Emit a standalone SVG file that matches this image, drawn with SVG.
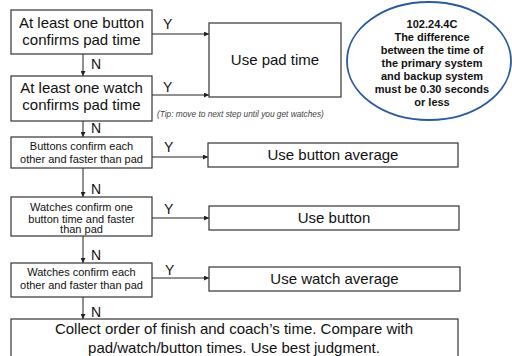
<svg xmlns="http://www.w3.org/2000/svg" width="512" height="356" viewBox="0 0 512 356">
<defs>
<marker id="ah" viewBox="0 0 6 6" refX="6" refY="3" markerWidth="5" markerHeight="5" orient="auto" markerUnits="userSpaceOnUse">
<path d="M0,0 L6,3 L0,6 z" fill="#222"/>
</marker>
<style>
.box{fill:#fff;stroke:#333;stroke-width:1.2}
.t{font-family:"Liberation Sans",Arial,sans-serif;fill:#111;text-anchor:middle}
.lbl{font-family:"Liberation Sans",Arial,sans-serif;fill:#111;font-size:14px}
.ln{stroke:#222;stroke-width:1;fill:none;marker-end:url(#ah)}
</style>
</defs>
<rect width="512" height="356" fill="#fff"/>

<g id="connectors">
<line class="ln" x1="83" y1="54" x2="83" y2="76"/>
<line class="ln" x1="83" y1="121" x2="83" y2="137"/>
<line class="ln" x1="83" y1="168" x2="83" y2="197"/>
<line class="ln" x1="83" y1="236" x2="83" y2="263"/>
<line class="ln" x1="83" y1="297" x2="83" y2="319"/>
<line class="ln" x1="152" y1="34" x2="209" y2="34"/>
<line class="ln" x1="152" y1="95" x2="209" y2="95"/>
<line class="ln" x1="152" y1="157" x2="208" y2="157"/>
<line class="ln" x1="152" y1="218" x2="209" y2="218"/>
<line class="ln" x1="152" y1="278" x2="209" y2="278"/>
<text class="lbl" x="163" y="29">Y</text>
<text class="lbl" x="163" y="92">Y</text>
<text class="lbl" x="164" y="152">Y</text>
<text class="lbl" x="164" y="214">Y</text>
<text class="lbl" x="165" y="275">Y</text>
<text class="lbl" x="91" y="69">N</text>
<text class="lbl" x="91" y="133">N</text>
<text class="lbl" x="91" y="194">N</text>
<text class="lbl" x="91" y="260">N</text>
<text class="lbl" x="91" y="317">N</text>
</g>

<g id="q1">
<rect class="box" x="11" y="10" width="141" height="44"/>
<text class="t" x="81.5" y="28" font-size="15">At least one button</text>
<text class="t" x="81.5" y="45" font-size="15">confirms pad time</text>
</g>
<g id="q2">
<rect class="box" x="11" y="76" width="141" height="45"/>
<text class="t" x="81.5" y="93" font-size="15">At least one watch</text>
<text class="t" x="81.5" y="110" font-size="15">confirms pad time</text>
</g>
<g id="tip">
<text x="157" y="117" font-family="'Liberation Sans',Arial,sans-serif" font-size="8.3" font-style="italic" fill="#444">(Tip: move to next step until you get watches)</text>
</g>
<g id="padtime">
<rect class="box" x="209" y="23" width="132" height="74"/>
<text class="t" x="275" y="65" font-size="15">Use pad time</text>
</g>
<g id="note">
<ellipse cx="429" cy="61" rx="82" ry="59" fill="#fff" stroke="#2a5b9c" stroke-width="1.8"/>
<g font-family="'Liberation Sans',Arial,sans-serif" font-weight="bold" font-size="11" fill="#111" text-anchor="middle">
<text x="432" y="28">102.24.4C</text>
<text x="432" y="41">The difference</text>
<text x="432" y="54">between the time of</text>
<text x="432" y="67">the primary system</text>
<text x="432" y="80">and backup system</text>
<text x="432" y="93">must be 0.30 seconds</text>
<text x="432" y="106">or less</text>
</g>
</g>
<g id="q3">
<rect class="box" x="11" y="137" width="141" height="31"/>
<text class="t" x="81.5" y="149.5" font-size="11">Buttons confirm each</text>
<text class="t" x="81.5" y="162.5" font-size="11">other and faster than pad</text>
</g>
<g id="btnavg">
<rect class="box" x="208" y="143" width="250" height="24"/>
<text class="t" x="333" y="159.5" font-size="15">Use button average</text>
</g>
<g id="q4">
<rect class="box" x="11" y="197" width="141" height="39"/>
<text class="t" x="81.5" y="210.5" font-size="11">Watches confirm one</text>
<text class="t" x="81.5" y="222.5" font-size="11">button time and faster</text>
<text class="t" x="81.5" y="233" font-size="11">than pad</text>
</g>
<g id="btn">
<rect class="box" x="209" y="206" width="250" height="24"/>
<text class="t" x="334" y="223" font-size="15">Use button</text>
</g>
<g id="q5">
<rect class="box" x="11" y="263" width="141" height="34"/>
<text class="t" x="81.5" y="276" font-size="11">Watches confirm each</text>
<text class="t" x="81.5" y="289" font-size="11">other and faster than pad</text>
</g>
<g id="watchavg">
<rect class="box" x="209" y="267" width="251" height="24"/>
<text class="t" x="334.5" y="284" font-size="15">Use watch average</text>
</g>
<g id="final">
<rect class="box" x="11" y="319" width="447" height="42"/>
<text class="t" x="234" y="334" font-size="15">Collect order of finish and coach’s time. Compare with</text>
<text class="t" x="234" y="353" font-size="15">pad/watch/button times. Use best judgment.</text>
</g>
</svg>
